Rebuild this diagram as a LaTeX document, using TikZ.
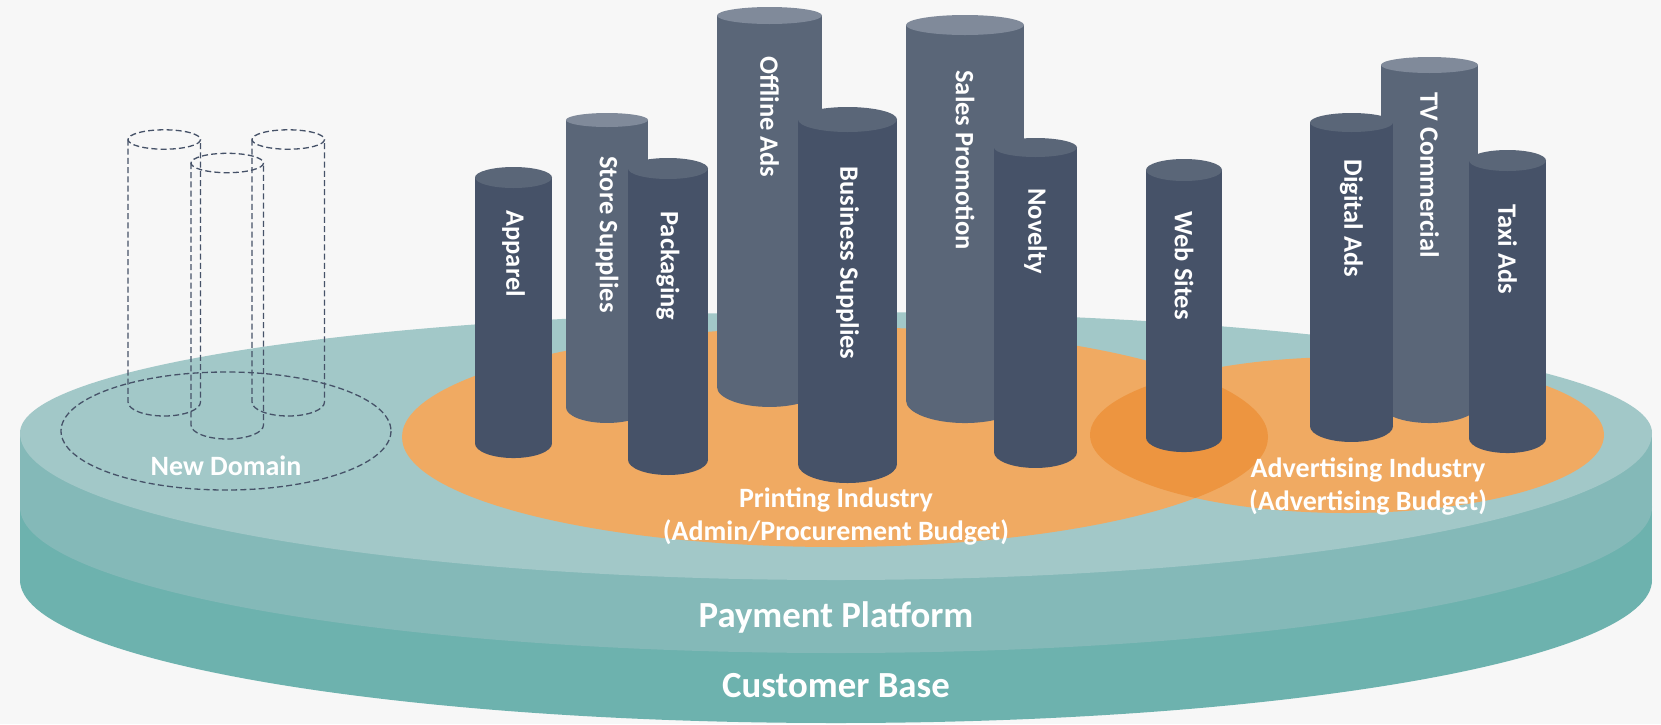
\documentclass[tikz,border=0pt]{standalone}
\usepackage{fontspec}
\setmainfont{Carlito}

\definecolor{paper}{HTML}{F7F7F7}
\definecolor{tealtop}{HTML}{A2C8C8}
\definecolor{tealmid}{HTML}{84B9B8}
\definecolor{teallow}{HTML}{6DB2AE}
\definecolor{budget}{HTML}{F0AA62}
\definecolor{budgetboth}{HTML}{ED9540}
\definecolor{pillardark}{HTML}{465268}
\definecolor{capdark}{HTML}{5A6678}
\definecolor{pillarlight}{HTML}{5A6678}
\definecolor{caplight}{HTML}{808A9A}

\def\rim{816}

\begin{document}
\begin{tikzpicture}[x=0.5pt,y=-0.5pt,
    lbl/.style={font=\bfseries\fontsize{14pt}{16.5pt}\selectfont,text=white,align=center,inner sep=0},
    big/.style={font=\bfseries\fontsize{18.4pt}{22pt}\selectfont,text=white,inner sep=0,anchor=base},
    ptext/.style={font=\bfseries\fontsize{13.25pt}{16pt}\selectfont,text=white,rotate=-90,anchor=west,inner sep=0},
    ghost/.style={draw=pillardark,line width=0.65pt,dash pattern=on 3pt off 1.6pt}]

  \fill[paper] (0,0) rectangle (1661,724);
  \useasboundingbox (0,0) rectangle (1661,724);

  % the platform disk
  \fill[teallow] (20,433) rectangle (1652,580);
  \fill[teallow] (836,580) ellipse[x radius=\rim,y radius=143];
  \fill[tealmid] (20,433) rectangle (1652,507);
  \fill[tealmid] (836,507) ellipse[x radius=\rim,y radius=146];
  \fill[tealtop] (20,433) arc[start angle=180,end angle=360,x radius=\rim,y radius=121]
    arc[start angle=0,end angle=180,x radius=\rim,y radius=147] -- cycle;

  % budgets
  \fill[budget] (835,437) ellipse[x radius=433,y radius=110];
  \fill[budget] (1347,435) ellipse[x radius=257,y radius=78];
  \begin{scope}
    \clip (835,437) ellipse[x radius=433,y radius=110];
    \fill[budgetboth] (1347,435) ellipse[x radius=257,y radius=78];
  \end{scope}

  % empty domain
  \draw[ghost] (226,431) ellipse[x radius=165,y radius=59];
  \foreach \xl/\cy/\by in {128/139.5/402, 252/139.5/402, 191/163/425} {
    \draw[ghost] (\xl+36.25,\cy) ellipse[x radius=36.25,y radius=9.7];
    \draw[ghost] (\xl,\cy) -- (\xl,\by)
      arc[start angle=180,end angle=0,x radius=36.25,y radius=14] -- (\xl+72.5,\cy);
  }
  \node[lbl,anchor=base] (newdomain) at (226,475) {New Domain};

  % pillars, back row first
  \foreach \nm/\tone/\xl/\xr/\cy/\ry/\by/\ty/\txt in {
      store/light/566/648/120/7/407.4/157/Store Supplies,
      offline/light/717/822/15.5/8.5/387/57/Offline Ads,
      sales/light/906/1024/25/10/400.6/71/Sales Promotion,
      tv/light/1381/1478/65/8/404.6/93/TV Commercial,
      apparel/dark/475/552/177.5/10.5/443.4/211/Apparel,
      packaging/dark/628/708/168.5/10.5/459.8/212/Packaging,
      business/dark/798/897/119.5/12.5/464.2/167/Business Supplies,
      novelty/dark/994/1077/147.5/9.5/452.2/189/Novelty,
      web/dark/1146/1222/170/11/437.6/212/Web Sites,
      digital/dark/1310/1393/122.5/9.5/426.2/160/Digital Ads,
      taxi/dark/1469/1546/160.5/10.5/438.4/205/Taxi Ads} {
    \fill[fill=pillar\tone] (\xl,\cy) rectangle (\xr,\by);
    \fill[fill=pillar\tone] ({(\xl+\xr)/2},\by) ellipse[x radius={(\xr-\xl)/2},y radius={0.19*(\xr-\xl)}];
    \fill[fill=cap\tone] ({(\xl+\xr)/2},\cy) ellipse[x radius={(\xr-\xl)/2},y radius=\ry];
    \node[ptext] (\nm) at ({(\xl+\xr)/2},\ty-1) {\txt};
  }

  \node[lbl] (printing) at (836,517) {Printing Industry\\(Admin/Procurement Budget)};
  \node[lbl] (advertising) at (1368,487) {Advertising Industry\\(Advertising Budget)};
  \node[big] (payment) at (836,627) {Payment Platform};
  \node[big] (customers) at (836,697) {Customer Base};
\end{tikzpicture}
\end{document}
